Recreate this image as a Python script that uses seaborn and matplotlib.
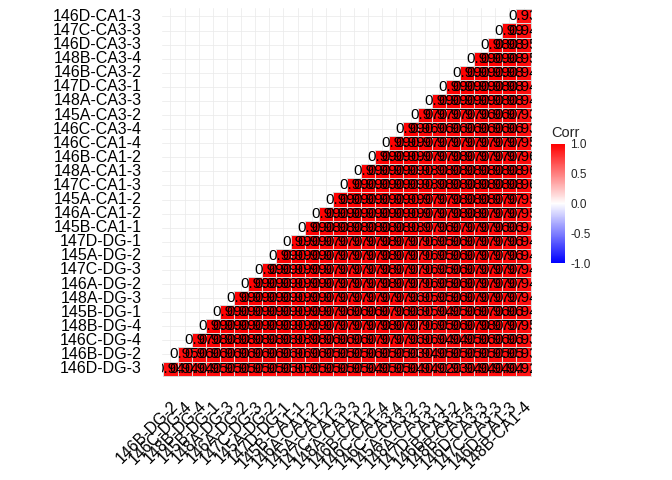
import numpy as np
import pandas as pd
import matplotlib
matplotlib.use("Agg")
import matplotlib.pyplot as plt
from matplotlib.colors import LinearSegmentedColormap, to_rgba
import seaborn as sns

# sample order (bottom of y axis first); y uses all but the last, x all but the first
samples = ["146D-DG-3", "146B-DG-2", "146C-DG-4", "148B-DG-4", "145B-DG-1",
           "148A-DG-3", "146A-DG-2", "147C-DG-3", "145A-DG-2", "147D-DG-1",
           "145B-CA1-1", "146A-CA1-2", "145A-CA1-2", "147C-CA1-3", "148A-CA1-3",
           "146B-CA1-2", "146C-CA1-4", "146C-CA3-4", "145A-CA3-2", "148A-CA3-3",
           "147D-CA3-1", "146B-CA3-2", "148B-CA3-4", "146D-CA3-3", "147C-CA3-3",
           "146D-CA1-3", "148B-CA1-4"]

# correlations per y row (bottom row first), from the diagonal cell to the right edge
corr_rows = [
    [0.94, 0.94, 0.94, 0.95, 0.95, 0.95, 0.95, 0.95, 0.95, 0.95, 0.95, 0.95, 0.95,
     0.95, 0.94, 0.95, 0.95, 0.94, 0.94, 0.92, 0.93, 0.94, 0.94, 0.94, 0.94, 0.92],
    [0.95, 0.96, 0.96, 0.96, 0.96, 0.96, 0.96, 0.96, 0.96, 0.96, 0.95, 0.95, 0.95,
     0.96, 0.95, 0.95, 0.93, 0.94, 0.95, 0.95, 0.95, 0.95, 0.95, 0.95, 0.93],
    [0.97, 0.98, 0.98, 0.98, 0.98, 0.98, 0.98, 0.98, 0.98, 0.96, 0.96, 0.96, 0.97,
     0.97, 0.97, 0.96, 0.96, 0.94, 0.94, 0.95, 0.96, 0.96, 0.96, 0.93],
    [0.99, 0.99, 0.99, 0.99, 0.99, 0.99, 0.99, 0.99, 0.97, 0.97, 0.97, 0.97, 0.98,
     0.97, 0.97, 0.96, 0.95, 0.96, 0.97, 0.98, 0.97, 0.97, 0.95],
    [0.99, 0.99, 0.99, 0.99, 0.99, 0.99, 0.99, 0.97, 0.96, 0.96, 0.96, 0.97, 0.96,
     0.96, 0.95, 0.94, 0.95, 0.96, 0.97, 0.96, 0.96, 0.94],
    [0.99, 0.99, 0.99, 0.99, 0.99, 0.99, 0.97, 0.97, 0.97, 0.97, 0.97, 0.97, 0.96,
     0.95, 0.95, 0.96, 0.97, 0.97, 0.97, 0.97, 0.94],
    [0.99, 0.99, 0.99, 0.99, 0.99, 0.97, 0.97, 0.97, 0.97, 0.98, 0.97, 0.97, 0.96,
     0.95, 0.96, 0.97, 0.97, 0.97, 0.97, 0.94],
    [0.99, 0.99, 0.99, 0.99, 0.97, 0.97, 0.97, 0.97, 0.98, 0.97, 0.97, 0.96, 0.95,
     0.96, 0.97, 0.97, 0.97, 0.97, 0.94],
    [0.99, 0.99, 0.99, 0.97, 0.97, 0.97, 0.97, 0.98, 0.97, 0.97, 0.96, 0.95, 0.96,
     0.97, 0.97, 0.97, 0.96, 0.94],
    [0.99, 0.99, 0.97, 0.97, 0.97, 0.97, 0.98, 0.97, 0.97, 0.96, 0.95, 0.96, 0.97,
     0.97, 0.97, 0.96, 0.94],
    [0.99, 0.98, 0.98, 0.98, 0.98, 0.98, 0.98, 0.98, 0.97, 0.96, 0.97, 0.97, 0.97,
     0.96, 0.96, 0.94],
    [0.99, 0.99, 0.99, 0.99, 0.99, 0.99, 0.99, 0.97, 0.97, 0.98, 0.98, 0.97, 0.97,
     0.97, 0.95],
    [0.99, 0.99, 0.99, 0.99, 0.99, 0.99, 0.97, 0.97, 0.98, 0.98, 0.98, 0.97, 0.97,
     0.95],
    [0.99, 0.99, 0.99, 0.99, 0.99, 0.98, 0.98, 0.98, 0.98, 0.98, 0.98, 0.98, 0.96],
    [0.99, 0.99, 0.99, 0.99, 0.98, 0.98, 0.98, 0.98, 0.98, 0.98, 0.98, 0.96],
    [0.99, 0.99, 0.99, 0.97, 0.97, 0.98, 0.97, 0.97, 0.97, 0.97, 0.96],
    [0.99, 0.99, 0.97, 0.97, 0.97, 0.97, 0.97, 0.97, 0.97, 0.95],
    [0.99, 0.96, 0.96, 0.96, 0.96, 0.96, 0.96, 0.96, 0.93],
    [0.97, 0.97, 0.97, 0.97, 0.96, 0.96, 0.97, 0.93],
    [0.99, 0.99, 0.99, 0.99, 0.98, 0.98, 0.94],
    [0.99, 0.99, 0.99, 0.98, 0.98, 0.94],
    [0.99, 0.99, 0.99, 0.98, 0.94],
    [0.99, 0.99, 0.98, 0.95],
    [0.98, 0.98, 0.95],
    [0.99, 0.94],
    [0.93],
]

y_names = samples[:-1]
x_names = samples[1:]
n = len(x_names)

mat = np.full((n, n), np.nan)
for i, row in enumerate(corr_rows):
    mat[i, i:] = row
# heatmap draws the first row at the top
df = pd.DataFrame(mat[::-1], index=y_names[::-1], columns=x_names)

sns.set_theme(style="white")
plt.rcParams["font.family"] = ["Liberation Sans", "DejaVu Sans"]

fig = plt.figure(figsize=(7, 5), dpi=96)
ax = fig.add_axes([162 / 672, 1 - 377 / 480, 370 / 672, 369 / 480])
cax = fig.add_axes([551 / 672, 1 - 263 / 480, 14 / 672, 119 / 480])

cmap = LinearSegmentedColormap.from_list("bwr_gg", ["blue", "white", "red"])
sns.heatmap(df, ax=ax, cbar_ax=cax, cmap=cmap, vmin=-1, vmax=1,
            annot=True, fmt=".2f", annot_kws={"color": "black", "fontsize": 11.4},
            linewidths=0.4, linecolor="#d8d8d8",
            xticklabels=True, yticklabels=True)

# outline only the filled cells, leave empty ones see-through
mesh = ax.collections[0]
edge = np.array([to_rgba("#d8d8d8")] * (n * n))
edge[np.isnan(df.values).ravel()] = (0, 0, 0, 0)
mesh.set_edgecolor(edge)

for t in ax.texts:
    t.set_clip_on(True)

ax.set_xlim(-0.1, n + 0.1)
ax.set_ylim(n + 0.1, -0.1)
ax.set_axisbelow(True)
ax.grid(True, color="#EBEBEB", linewidth=0.6)
ax.set_xlabel("")
ax.set_ylabel("")
ax.tick_params(length=0, labelsize=12, colors="black")
ax.tick_params(axis="y", pad=15)
ax.tick_params(axis="x", pad=16)
ax.set_xticklabels(x_names, rotation=45, ha="right", va="top",
                   rotation_mode="anchor")
ax.set_yticklabels(df.index, rotation=0)
for s in ax.spines.values():
    s.set_visible(False)

cbar = ax.collections[0].colorbar
cbar.outline.set_visible(False)
cbar.set_ticks([-1, -0.5, 0, 0.5, 1])
cbar.set_ticklabels(["-1.0", "-0.5", "0.0", "0.5", "1.0"])
cax.tick_params(axis="y", direction="in", color="white", length=3, width=0.8,
                left=True, right=True, labelsize=8.8, pad=4)
fig.text(551 / 672, 1 - 133 / 480, "Corr", fontsize=11, va="center", ha="left")

fig.savefig("out.png", dpi=96, facecolor="white")
